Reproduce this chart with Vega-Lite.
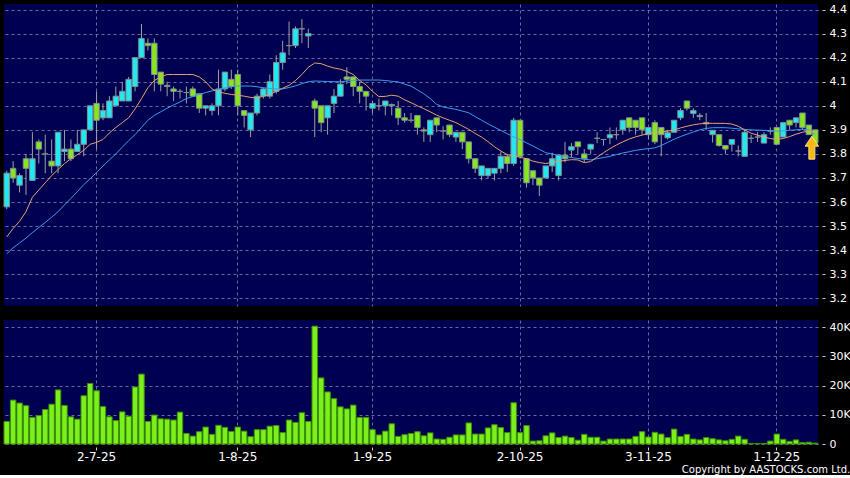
{
"$schema": "https://vega.github.io/schema/vega-lite/v6.json",
"background": "#000000",
"padding": {"left": 3, "top": 3, "right": 0, "bottom": 0},
"spacing": 14,
"title": {"text": "Copyright by AASTOCKS.com Ltd.", "orient": "bottom", "anchor": "end", "frame": "bounds", "color": "#ffffff", "font": "DejaVu Sans", "fontSize": 10, "fontWeight": "normal", "offset": 3},
"config": {"view": {"fill": "#000050", "stroke": null}, "axis": {"labelOverlap": false, "labelBound": false}, "axisY": {"labelOverlap": false}, "axisRight": {"labelOverlap": false}},
"datasets": {
"k": [
{"i":0,"t":"11-6-25","o":3.58,"h":3.73,"l":3.57,"c":3.72,"v":7700,"ma10":3.455,"ma20":3.385},
{"i":1,"t":"12-6-25","o":3.74,"h":3.77,"l":3.68,"c":3.70,"v":15000,"ma10":3.49,"ma20":3.41},
{"i":2,"t":"13-6-25","o":3.67,"h":3.72,"l":3.64,"c":3.71,"v":14000,"ma10":3.52,"ma20":3.43},
{"i":3,"t":"16-6-25","o":3.78,"h":3.80,"l":3.63,"c":3.74,"v":13100,"ma10":3.56,"ma20":3.45},
{"i":4,"t":"17-6-25","o":3.69,"h":3.89,"l":3.69,"c":3.78,"v":9100,"ma10":3.62,"ma20":3.473},
{"i":5,"t":"18-6-25","o":3.85,"h":3.86,"l":3.76,"c":3.82,"v":9700,"ma10":3.65,"ma20":3.494},
{"i":6,"t":"19-6-25","o":3.80,"h":3.88,"l":3.72,"c":3.80,"v":11800,"ma10":3.68,"ma20":3.515},
{"i":7,"t":"20-6-25","o":3.77,"h":3.86,"l":3.72,"c":3.75,"v":13600,"ma10":3.71,"ma20":3.537},
{"i":8,"t":"23-6-25","o":3.75,"h":3.89,"l":3.72,"c":3.89,"v":18500,"ma10":3.735,"ma20":3.56},
{"i":9,"t":"24-6-25","o":3.81,"h":3.90,"l":3.77,"c":3.82,"v":13200,"ma10":3.76,"ma20":3.588},
{"i":10,"t":"25-6-25","o":3.82,"h":3.86,"l":3.77,"c":3.78,"v":9300,"ma10":3.78,"ma20":3.615},
{"i":11,"t":"26-6-25","o":3.81,"h":3.90,"l":3.81,"c":3.84,"v":8500,"ma10":3.797,"ma20":3.643},
{"i":12,"t":"27-6-25","o":3.84,"h":3.90,"l":3.79,"c":3.90,"v":16500,"ma10":3.815,"ma20":3.672},
{"i":13,"t":"30-6-25","o":3.90,"h":4.00,"l":3.90,"c":4.00,"v":20700,"ma10":3.84,"ma20":3.697},
{"i":14,"t":"2-7-25","o":4.01,"h":4.06,"l":3.82,"c":3.94,"v":18200,"ma10":3.848,"ma20":3.723},
{"i":15,"t":"3-7-25","o":3.95,"h":4.01,"l":3.94,"c":3.98,"v":12800,"ma10":3.86,"ma20":3.75},
{"i":16,"t":"4-7-25","o":3.95,"h":4.04,"l":3.95,"c":4.02,"v":9300,"ma10":3.887,"ma20":3.775},
{"i":17,"t":"7-7-25","o":4.00,"h":4.08,"l":4.00,"c":4.04,"v":8000,"ma10":3.91,"ma20":3.80},
{"i":18,"t":"8-7-25","o":4.02,"h":4.10,"l":4.02,"c":4.06,"v":11000,"ma10":3.93,"ma20":3.828},
{"i":19,"t":"9-7-25","o":4.02,"h":4.12,"l":4.02,"c":4.11,"v":9500,"ma10":3.95,"ma20":3.855},
{"i":20,"t":"10-7-25","o":4.08,"h":4.20,"l":4.06,"c":4.20,"v":19500,"ma10":3.987,"ma20":3.88},
{"i":21,"t":"11-7-25","o":4.20,"h":4.34,"l":4.20,"c":4.28,"v":23900,"ma10":4.03,"ma20":3.91},
{"i":22,"t":"14-7-25","o":4.26,"h":4.28,"l":4.23,"c":4.25,"v":7700,"ma10":4.075,"ma20":3.94},
{"i":23,"t":"15-7-25","o":4.26,"h":4.28,"l":4.06,"c":4.13,"v":9900,"ma10":4.105,"ma20":3.96},
{"i":24,"t":"16-7-25","o":4.14,"h":4.14,"l":4.06,"c":4.09,"v":8600,"ma10":4.12,"ma20":3.975},
{"i":25,"t":"17-7-25","o":4.085,"h":4.10,"l":4.04,"c":4.08,"v":8500,"ma10":4.13,"ma20":3.99},
{"i":26,"t":"18-7-25","o":4.07,"h":4.08,"l":4.02,"c":4.06,"v":8200,"ma10":4.13,"ma20":4.003},
{"i":27,"t":"21-7-25","o":4.06,"h":4.07,"l":4.03,"c":4.06,"v":10900,"ma10":4.13,"ma20":4.016},
{"i":28,"t":"22-7-25","o":4.055,"h":4.08,"l":4.01,"c":4.055,"v":3600,"ma10":4.13,"ma20":4.03},
{"i":29,"t":"23-7-25","o":4.07,"h":4.08,"l":4.04,"c":4.04,"v":2700,"ma10":4.13,"ma20":4.038},
{"i":30,"t":"24-7-25","o":4.05,"h":4.05,"l":3.97,"c":3.99,"v":4200,"ma10":4.12,"ma20":4.047},
{"i":31,"t":"25-7-25","o":3.99,"h":4.00,"l":3.96,"c":4.00,"v":5800,"ma10":4.10,"ma20":4.055},
{"i":32,"t":"28-7-25","o":3.98,"h":4.01,"l":3.96,"c":4.00,"v":3300,"ma10":4.07,"ma20":4.062},
{"i":33,"t":"29-7-25","o":4.00,"h":4.15,"l":3.96,"c":4.07,"v":6400,"ma10":4.057,"ma20":4.068},
{"i":34,"t":"30-7-25","o":4.07,"h":4.14,"l":4.06,"c":4.14,"v":5700,"ma10":4.052,"ma20":4.074},
{"i":35,"t":"31-7-25","o":4.11,"h":4.15,"l":4.07,"c":4.08,"v":4300,"ma10":4.047,"ma20":4.079},
{"i":36,"t":"1-8-25","o":4.13,"h":4.15,"l":3.96,"c":4.00,"v":5800,"ma10":4.044,"ma20":4.082},
{"i":37,"t":"4-8-25","o":3.98,"h":3.98,"l":3.91,"c":3.96,"v":4400,"ma10":4.04,"ma20":4.082},
{"i":38,"t":"5-8-25","o":3.90,"h":3.97,"l":3.87,"c":3.97,"v":2500,"ma10":4.035,"ma20":4.082},
{"i":39,"t":"6-8-25","o":3.97,"h":4.05,"l":3.96,"c":4.04,"v":4900,"ma10":4.032,"ma20":4.079},
{"i":40,"t":"7-8-25","o":4.04,"h":4.075,"l":4.03,"c":4.07,"v":4900,"ma10":4.04,"ma20":4.075},
{"i":41,"t":"8-8-25","o":4.04,"h":4.13,"l":4.03,"c":4.10,"v":6100,"ma10":4.047,"ma20":4.072},
{"i":42,"t":"11-8-25","o":4.06,"h":4.21,"l":4.05,"c":4.18,"v":6300,"ma10":4.06,"ma20":4.07},
{"i":43,"t":"12-8-25","o":4.18,"h":4.27,"l":4.15,"c":4.22,"v":3900,"ma10":4.073,"ma20":4.07},
{"i":44,"t":"13-8-25","o":4.25,"h":4.35,"l":4.21,"c":4.25,"v":8200,"ma10":4.085,"ma20":4.076},
{"i":45,"t":"14-8-25","o":4.25,"h":4.33,"l":4.24,"c":4.32,"v":7400,"ma10":4.105,"ma20":4.083},
{"i":46,"t":"15-8-25","o":4.32,"h":4.36,"l":4.26,"c":4.32,"v":10700,"ma10":4.13,"ma20":4.092},
{"i":47,"t":"18-8-25","o":4.29,"h":4.32,"l":4.24,"c":4.30,"v":7700,"ma10":4.16,"ma20":4.10},
{"i":48,"t":"19-8-25","o":4.02,"h":4.03,"l":3.87,"c":3.99,"v":40300,"ma10":4.178,"ma20":4.103},
{"i":49,"t":"20-8-25","o":4.00,"h":4.00,"l":3.89,"c":3.93,"v":22600,"ma10":4.175,"ma20":4.102},
{"i":50,"t":"21-8-25","o":3.95,"h":4.00,"l":3.88,"c":4.00,"v":17800,"ma10":4.165,"ma20":4.101},
{"i":51,"t":"22-8-25","o":4.01,"h":4.07,"l":3.97,"c":4.04,"v":15500,"ma10":4.157,"ma20":4.10},
{"i":52,"t":"25-8-25","o":4.04,"h":4.11,"l":4.04,"c":4.09,"v":12700,"ma10":4.152,"ma20":4.10},
{"i":53,"t":"26-8-25","o":4.12,"h":4.16,"l":4.09,"c":4.11,"v":12000,"ma10":4.143,"ma20":4.103},
{"i":54,"t":"27-8-25","o":4.12,"h":4.12,"l":4.04,"c":4.08,"v":13300,"ma10":4.13,"ma20":4.106},
{"i":55,"t":"28-8-25","o":4.08,"h":4.10,"l":4.01,"c":4.06,"v":9100,"ma10":4.105,"ma20":4.107},
{"i":56,"t":"29-8-25","o":4.06,"h":4.06,"l":3.98,"c":4.04,"v":9100,"ma10":4.087,"ma20":4.107},
{"i":57,"t":"1-9-25","o":3.99,"h":4.02,"l":3.97,"c":4.01,"v":4900,"ma10":4.06,"ma20":4.107},
{"i":58,"t":"2-9-25","o":4.00,"h":4.03,"l":3.98,"c":4.00,"v":3100,"ma10":4.038,"ma20":4.107},
{"i":59,"t":"3-9-25","o":4.00,"h":4.02,"l":3.96,"c":4.02,"v":4400,"ma10":4.039,"ma20":4.105},
{"i":60,"t":"4-9-25","o":4.00,"h":4.01,"l":3.96,"c":4.005,"v":6900,"ma10":4.044,"ma20":4.102},
{"i":61,"t":"5-9-25","o":3.99,"h":4.02,"l":3.92,"c":3.95,"v":2600,"ma10":4.04,"ma20":4.099},
{"i":62,"t":"8-9-25","o":3.95,"h":3.97,"l":3.93,"c":3.94,"v":3200,"ma10":4.025,"ma20":4.09},
{"i":63,"t":"9-9-25","o":3.94,"h":3.97,"l":3.93,"c":3.94,"v":3600,"ma10":4.013,"ma20":4.082},
{"i":64,"t":"10-9-25","o":3.96,"h":3.96,"l":3.88,"c":3.91,"v":4200,"ma10":4.0,"ma20":4.066},
{"i":65,"t":"11-9-25","o":3.90,"h":3.91,"l":3.85,"c":3.895,"v":2800,"ma10":3.988,"ma20":4.05},
{"i":66,"t":"12-9-25","o":3.88,"h":3.94,"l":3.85,"c":3.94,"v":3800,"ma10":3.975,"ma20":4.03},
{"i":67,"t":"15-9-25","o":3.95,"h":3.95,"l":3.89,"c":3.92,"v":1700,"ma10":3.961,"ma20":4.006},
{"i":68,"t":"16-9-25","o":3.895,"h":3.915,"l":3.86,"c":3.895,"v":1600,"ma10":3.95,"ma20":3.995},
{"i":69,"t":"17-9-25","o":3.92,"h":3.92,"l":3.87,"c":3.88,"v":2300,"ma10":3.94,"ma20":3.99},
{"i":70,"t":"18-9-25","o":3.87,"h":3.89,"l":3.85,"c":3.89,"v":3100,"ma10":3.93,"ma20":3.985},
{"i":71,"t":"19-9-25","o":3.89,"h":3.89,"l":3.82,"c":3.85,"v":3100,"ma10":3.916,"ma20":3.978},
{"i":72,"t":"22-9-25","o":3.85,"h":3.85,"l":3.76,"c":3.78,"v":7200,"ma10":3.902,"ma20":3.971},
{"i":73,"t":"23-9-25","o":3.78,"h":3.78,"l":3.72,"c":3.74,"v":3400,"ma10":3.885,"ma20":3.955},
{"i":74,"t":"24-9-25","o":3.71,"h":3.75,"l":3.69,"c":3.75,"v":3400,"ma10":3.87,"ma20":3.94},
{"i":75,"t":"25-9-25","o":3.71,"h":3.74,"l":3.70,"c":3.74,"v":5500,"ma10":3.851,"ma20":3.925},
{"i":76,"t":"26-9-25","o":3.72,"h":3.74,"l":3.69,"c":3.74,"v":6600,"ma10":3.83,"ma20":3.911},
{"i":77,"t":"29-9-25","o":3.74,"h":3.81,"l":3.72,"c":3.79,"v":5600,"ma10":3.812,"ma20":3.898},
{"i":78,"t":"30-9-25","o":3.79,"h":3.80,"l":3.725,"c":3.76,"v":3900,"ma10":3.797,"ma20":3.884},
{"i":79,"t":"1-10-25","o":3.76,"h":3.95,"l":3.75,"c":3.94,"v":14100,"ma10":3.792,"ma20":3.871},
{"i":80,"t":"2-10-25","o":3.94,"h":3.94,"l":3.78,"c":3.79,"v":3900,"ma10":3.786,"ma20":3.86},
{"i":81,"t":"3-10-25","o":3.78,"h":3.78,"l":3.66,"c":3.68,"v":6300,"ma10":3.78,"ma20":3.846},
{"i":82,"t":"6-10-25","o":3.73,"h":3.73,"l":3.67,"c":3.70,"v":1000,"ma10":3.77,"ma20":3.833},
{"i":83,"t":"8-10-25","o":3.70,"h":3.70,"l":3.625,"c":3.67,"v":1100,"ma10":3.764,"ma20":3.819},
{"i":84,"t":"9-10-25","o":3.70,"h":3.75,"l":3.70,"c":3.75,"v":2800,"ma10":3.76,"ma20":3.805},
{"i":85,"t":"10-10-25","o":3.75,"h":3.805,"l":3.725,"c":3.78,"v":3800,"ma10":3.765,"ma20":3.80},
{"i":86,"t":"13-10-25","o":3.71,"h":3.795,"l":3.69,"c":3.795,"v":2200,"ma10":3.769,"ma20":3.794},
{"i":87,"t":"14-10-25","o":3.795,"h":3.85,"l":3.765,"c":3.78,"v":2700,"ma10":3.773,"ma20":3.789},
{"i":88,"t":"15-10-25","o":3.816,"h":3.845,"l":3.785,"c":3.83,"v":2200,"ma10":3.776,"ma20":3.785},
{"i":89,"t":"16-10-25","o":3.85,"h":3.85,"l":3.80,"c":3.83,"v":1300,"ma10":3.775,"ma20":3.781},
{"i":90,"t":"17-10-25","o":3.80,"h":3.82,"l":3.765,"c":3.78,"v":3300,"ma10":3.764,"ma20":3.778},
{"i":91,"t":"20-10-25","o":3.82,"h":3.84,"l":3.80,"c":3.84,"v":2300,"ma10":3.768,"ma20":3.775},
{"i":92,"t":"21-10-25","o":3.865,"h":3.89,"l":3.845,"c":3.865,"v":2300,"ma10":3.787,"ma20":3.78},
{"i":93,"t":"22-10-25","o":3.86,"h":3.86,"l":3.835,"c":3.86,"v":1000,"ma10":3.805,"ma20":3.785},
{"i":94,"t":"23-10-25","o":3.867,"h":3.91,"l":3.84,"c":3.88,"v":1700,"ma10":3.822,"ma20":3.79},
{"i":95,"t":"24-10-25","o":3.88,"h":3.91,"l":3.86,"c":3.88,"v":1700,"ma10":3.837,"ma20":3.797},
{"i":96,"t":"27-10-25","o":3.90,"h":3.94,"l":3.88,"c":3.94,"v":1700,"ma10":3.85,"ma20":3.804},
{"i":97,"t":"28-10-25","o":3.95,"h":3.95,"l":3.89,"c":3.91,"v":1700,"ma10":3.862,"ma20":3.809},
{"i":98,"t":"30-10-25","o":3.94,"h":3.94,"l":3.88,"c":3.91,"v":2600,"ma10":3.871,"ma20":3.815},
{"i":99,"t":"31-10-25","o":3.95,"h":3.95,"l":3.88,"c":3.90,"v":4200,"ma10":3.878,"ma20":3.819},
{"i":100,"t":"3-11-25","o":3.88,"h":3.91,"l":3.86,"c":3.91,"v":2400,"ma10":3.885,"ma20":3.822},
{"i":101,"t":"4-11-25","o":3.93,"h":3.94,"l":3.84,"c":3.85,"v":4000,"ma10":3.889,"ma20":3.825},
{"i":102,"t":"5-11-25","o":3.91,"h":3.91,"l":3.79,"c":3.88,"v":3400,"ma10":3.891,"ma20":3.835},
{"i":103,"t":"6-11-25","o":3.867,"h":3.90,"l":3.86,"c":3.888,"v":2200,"ma10":3.895,"ma20":3.848},
{"i":104,"t":"7-11-25","o":3.89,"h":3.94,"l":3.89,"c":3.94,"v":5100,"ma10":3.899,"ma20":3.861},
{"i":105,"t":"10-11-25","o":3.95,"h":3.99,"l":3.94,"c":3.98,"v":2600,"ma10":3.908,"ma20":3.872},
{"i":106,"t":"11-11-25","o":4.02,"h":4.02,"l":3.98,"c":3.99,"v":3300,"ma10":3.915,"ma20":3.882},
{"i":107,"t":"12-11-25","o":3.968,"h":3.99,"l":3.95,"c":3.98,"v":1700,"ma10":3.921,"ma20":3.891},
{"i":108,"t":"13-11-25","o":3.96,"h":3.97,"l":3.94,"c":3.955,"v":1400,"ma10":3.925,"ma20":3.90},
{"i":109,"t":"14-11-25","o":3.93,"h":3.97,"l":3.90,"c":3.925,"v":2200,"ma10":3.927,"ma20":3.906},
{"i":110,"t":"17-11-25","o":3.88,"h":3.90,"l":3.847,"c":3.898,"v":1800,"ma10":3.927,"ma20":3.909},
{"i":111,"t":"18-11-25","o":3.88,"h":3.88,"l":3.83,"c":3.835,"v":1400,"ma10":3.927,"ma20":3.909},
{"i":112,"t":"19-11-25","o":3.835,"h":3.835,"l":3.80,"c":3.82,"v":1100,"ma10":3.927,"ma20":3.909},
{"i":113,"t":"20-11-25","o":3.84,"h":3.86,"l":3.81,"c":3.86,"v":1600,"ma10":3.924,"ma20":3.907},
{"i":114,"t":"21-11-25","o":3.812,"h":3.835,"l":3.79,"c":3.812,"v":2700,"ma10":3.915,"ma20":3.904},
{"i":115,"t":"24-11-25","o":3.79,"h":3.90,"l":3.79,"c":3.89,"v":1600,"ma10":3.90,"ma20":3.902},
{"i":116,"t":"25-11-25","o":3.865,"h":3.88,"l":3.845,"c":3.865,"v":200,"ma10":3.886,"ma20":3.90},
{"i":117,"t":"26-11-25","o":3.87,"h":3.89,"l":3.85,"c":3.87,"v":200,"ma10":3.878,"ma20":3.899},
{"i":118,"t":"27-11-25","o":3.845,"h":3.89,"l":3.845,"c":3.88,"v":200,"ma10":3.87,"ma20":3.898},
{"i":119,"t":"28-11-25","o":3.895,"h":3.91,"l":3.88,"c":3.895,"v":1000,"ma10":3.864,"ma20":3.897},
{"i":120,"t":"1-12-25","o":3.91,"h":3.91,"l":3.84,"c":3.84,"v":3400,"ma10":3.86,"ma20":3.895},
{"i":121,"t":"2-12-25","o":3.87,"h":3.93,"l":3.87,"c":3.93,"v":1600,"ma10":3.864,"ma20":3.896},
{"i":122,"t":"3-12-25","o":3.94,"h":3.94,"l":3.90,"c":3.92,"v":900,"ma10":3.872,"ma20":3.898},
{"i":123,"t":"4-12-25","o":3.93,"h":3.95,"l":3.91,"c":3.95,"v":1400,"ma10":3.882,"ma20":3.90},
{"i":124,"t":"5-12-25","o":3.97,"h":3.97,"l":3.90,"c":3.91,"v":500,"ma10":3.89,"ma20":3.903},
{"i":125,"t":"8-12-25","o":3.92,"h":3.92,"l":3.88,"c":3.88,"v":600,"ma10":3.895,"ma20":3.90},
{"i":126,"t":"9-12-25","o":3.90,"h":3.90,"l":3.84,"c":3.845,"v":300,"ma10":3.889,"ma20":3.88}
],
"arrow": [{"i": 125, "p": 3.826}]
},
"vconcat": [
{
"width": 814, "height": 302,
"data": {"name": "k"},
"encoding": {
"x": {"field": "i", "type": "ordinal", "scale": {"paddingInner": 0.15, "paddingOuter": 0},
 "axis": {"values": [14, 36, 57, 80, 100, 120], "labels": false, "ticks": false, "domain": false, "grid": true, "gridDash": [3, 3], "gridColor": "#6a6aa0", "gridWidth": 1, "title": null, "bandPosition": 0.5}},
"y": {"field": "l", "type": "quantitative", "scale": {"domain": [3.168, 4.423], "zero": false, "nice": false},
  "axis": {"orient": "right", "values": [3.2, 3.3, 3.4, 3.5, 3.6, 3.7, 3.8, 3.9, 4.0, 4.1, 4.2, 4.3, 4.4], "labelExpr": "format(datum.value, '.1f') == '4.0' ? '4' : format(datum.value, '.1f')", "labelOverlap": false, "grid": true, "gridDash": [3, 3], "gridColor": "#6a6aa0", "domain": false, "tickSize": 3, "offset": 4, "tickColor": "#cccccc", "labelColor": "#ffffff", "labelFont": "DejaVu Sans", "labelFontSize": 11, "labelPadding": 4, "title": null}}
},
"layer": [
{"mark": {"type": "rule", "color": "#a0a0a0", "strokeWidth": 1},
 "encoding": {"y2": {"field": "h"}}},
{"mark": {"type": "bar", "stroke": "#7f8f90", "strokeWidth": 1},
 "encoding": {
 "y": {"field": "o", "type": "quantitative"},
 "y2": {"field": "c"},
 "color": {"condition": {"test": "datum.c > datum.o", "value": "#22e8f2"}, "value": "#88e620"}}},
{"mark": {"type": "line", "color": "#3d9cf0", "strokeWidth": 1},
 "encoding": {"y": {"field": "ma20", "type": "quantitative"}, "order": {"field": "i", "type": "quantitative"}}},
{"mark": {"type": "line", "color": "#e8a070", "strokeWidth": 1},
 "encoding": {"y": {"field": "ma10", "type": "quantitative"}, "order": {"field": "i", "type": "quantitative"}}},
{"data": {"name": "arrow"},
 "mark": {"type": "point", "shape": "M0,-1L0.58,-0.13L0.26,-0.13L0.26,1L-0.26,1L-0.26,-0.13L-0.58,-0.13Z", "size": 529, "filled": true, "color": "#f7b814", "stroke": "#ffe27a", "strokeWidth": 1, "opacity": 1, "xOffset": 3},
 "encoding": {"y": {"field": "p", "type": "quantitative"}}}
]
},
{
"width": 814, "height": 124,
"data": {"name": "k"},
"mark": {"type": "bar", "fill": "#7cf01c", "stroke": "#3c9000", "strokeWidth": 1},
"encoding": {
"x": {"field": "i", "type": "ordinal", "scale": {"paddingInner": 0.15, "paddingOuter": 0},
 "axis": {"values": [14, 36, 57, 80, 100, 120], "labelExpr": "datum.value==14?'2-7-25':datum.value==36?'1-8-25':datum.value==57?'1-9-25':datum.value==80?'2-10-25':datum.value==100?'3-11-25':'1-12-25'", "grid": true, "gridDash": [3, 3], "gridColor": "#6a6aa0", "domain": false, "tickSize": 3, "offset": 3, "tickColor": "#cccccc", "labelColor": "#ffffff", "labelFont": "DejaVu Sans", "labelFontSize": 12, "labelPadding": 1, "labelAngle": 0, "title": null, "bandPosition": 0.5}},
"y": {"field": "v", "type": "quantitative", "scale": {"domain": [0, 42400], "nice": false},
 "axis": {"orient": "right", "values": [0, 10000, 20000, 30000, 40000], "labelExpr": "datum.value==0?'0':(datum.value/1000)+'K'", "labelOverlap": false, "grid": true, "gridDash": [3, 3], "gridColor": "#6a6aa0", "domain": false, "tickSize": 3, "offset": 4, "tickColor": "#cccccc", "labelColor": "#ffffff", "labelFont": "DejaVu Sans", "labelFontSize": 11, "labelPadding": 4, "title": null}}
}
}
]
}
